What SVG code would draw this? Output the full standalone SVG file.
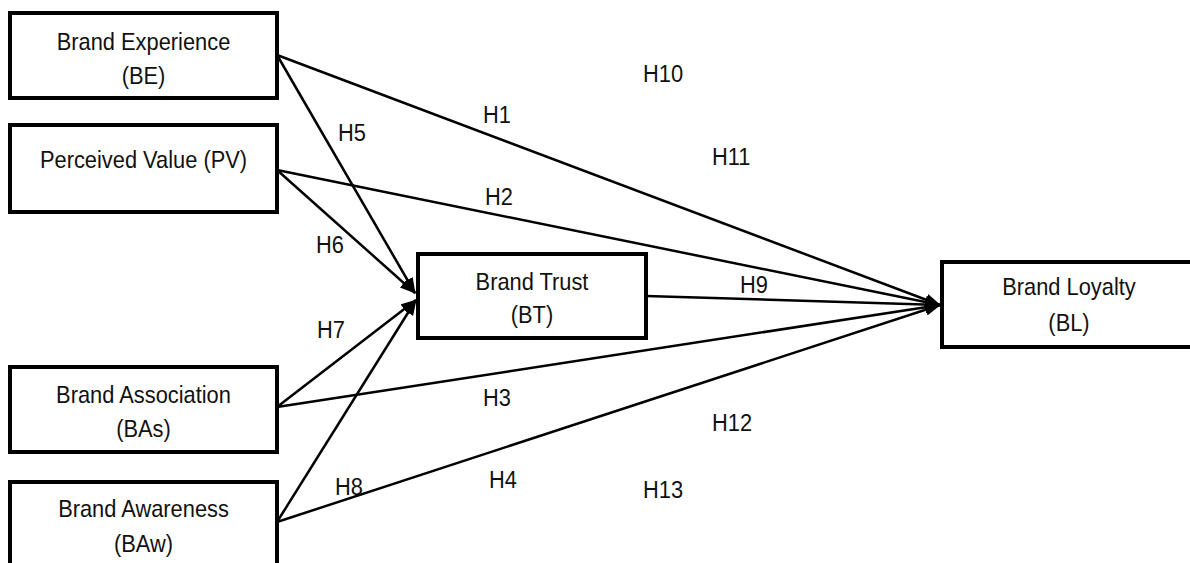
<svg xmlns="http://www.w3.org/2000/svg" width="1190" height="563" viewBox="0 0 1190 563">
<style>
.box{fill:#fff;stroke:#000;stroke-width:4}
.t{font-family:"Liberation Sans",Arial,sans-serif;font-size:24px;fill:#111;text-anchor:middle}
.h{font-family:"Liberation Sans",Arial,sans-serif;font-size:24px;fill:#111}
.c{stroke:#000;stroke-width:2.5;fill:none;marker-end:url(#ah)}
</style>
<defs>
<marker id="ah" viewBox="0 0 16 12" refX="15" refY="6" markerWidth="16" markerHeight="12" markerUnits="userSpaceOnUse" orient="auto">
<path d="M0,0 L16,6 L0,12 Z" fill="#000"/>
</marker>
</defs>
<rect width="1190" height="563" fill="#fff"/>
<g id="connectors">
<line class="c" x1="277" y1="55" x2="940" y2="305"/>
<line class="c" x1="277" y1="55" x2="415" y2="293"/>
<line class="c" x1="277" y1="170" x2="940" y2="305"/>
<line class="c" x1="277" y1="170" x2="415" y2="293"/>
<line class="c" x1="646" y1="296" x2="940" y2="305"/>
<line class="c" x1="277" y1="407" x2="416" y2="300"/>
<line class="c" x1="277" y1="407" x2="940" y2="305"/>
<line class="c" x1="277" y1="522" x2="416" y2="300"/>
<line class="c" x1="277" y1="522" x2="940" y2="305"/>
</g>
<g id="labels">
<text class="h" transform="translate(643,82) scale(0.91,1)">H10</text>
<text class="h" transform="translate(483,123) scale(0.91,1)">H1</text>
<text class="h" transform="translate(712,165) scale(0.91,1)">H11</text>
<text class="h" transform="translate(338,141) scale(0.91,1)">H5</text>
<text class="h" transform="translate(485,205) scale(0.91,1)">H2</text>
<text class="h" transform="translate(316,253) scale(0.91,1)">H6</text>
<text class="h" transform="translate(740,293) scale(0.91,1)">H9</text>
<text class="h" transform="translate(317,338) scale(0.91,1)">H7</text>
<text class="h" transform="translate(483,406) scale(0.91,1)">H3</text>
<text class="h" transform="translate(712,431) scale(0.91,1)">H12</text>
<text class="h" transform="translate(335,495) scale(0.91,1)">H8</text>
<text class="h" transform="translate(489,488) scale(0.91,1)">H4</text>
<text class="h" transform="translate(643,498) scale(0.91,1)">H13</text>
</g>
<g id="BE">
<rect class="box" x="10" y="13" width="267" height="85"/>
<text class="t" transform="translate(143.5,50) scale(0.91,1)">Brand Experience</text>
<text class="t" transform="translate(143.5,84) scale(0.91,1)">(BE)</text>
</g>
<g id="PV">
<rect class="box" x="10" y="125" width="267" height="87"/>
<text class="t" transform="translate(143.5,168) scale(0.91,1)">Perceived Value (PV)</text>
</g>
<g id="BAs">
<rect class="box" x="10" y="367" width="267" height="85"/>
<text class="t" transform="translate(143.5,403) scale(0.91,1)">Brand Association</text>
<text class="t" transform="translate(143.5,437) scale(0.91,1)">(BAs)</text>
</g>
<g id="BAw">
<rect class="box" x="10" y="482" width="267" height="100"/>
<text class="t" transform="translate(143.5,517) scale(0.91,1)">Brand Awareness</text>
<text class="t" transform="translate(143.5,552) scale(0.91,1)">(BAw)</text>
</g>
<g id="BT">
<rect class="box" x="418" y="254" width="228" height="84"/>
<text class="t" transform="translate(532,290) scale(0.91,1)">Brand Trust</text>
<text class="t" transform="translate(532,323) scale(0.91,1)">(BT)</text>
</g>
<g id="BL">
<rect class="box" x="942" y="262" width="260" height="85"/>
<text class="t" transform="translate(1069,295) scale(0.91,1)">Brand Loyalty</text>
<text class="t" transform="translate(1069,331) scale(0.91,1)">(BL)</text>
</g>
</svg>
